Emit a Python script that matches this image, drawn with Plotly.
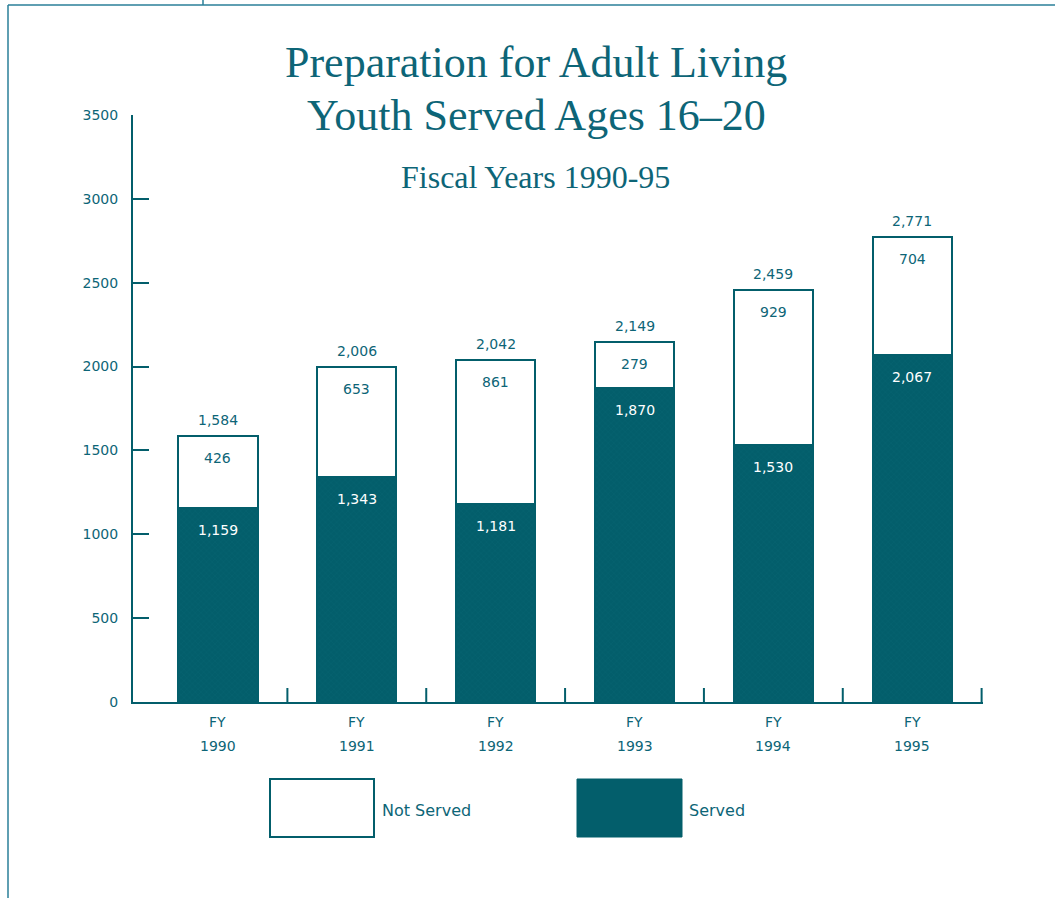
import plotly.graph_objects as go

# Youth aged 16-20 in the Preparation for Adult Living program, by fiscal year
years = ["1990", "1991", "1992", "1993", "1994", "1995"]
served = [1159, 1343, 1181, 1870, 1530, 2067]
not_served = [426, 653, 861, 279, 929, 704]
total_labels = ["1,584", "2,006", "2,042", "2,149", "2,459", "2,771"]
y_ticks = [0, 500, 1000, 1500, 2000, 2500, 3000, 3500]

TEAL = "#035e6b"
TEXT = "#0d6577"
W, H = 1055, 898
L, R, T, B = 133, 72, 115, 196
PW, PH = W - L - R, H - T - B


def px(x):
    return (x - L) / PW


def py(y):
    return (H - B - y) / PH


xs = list(range(len(years)))
tops = [s + n for s, n in zip(served, not_served)]

fig = go.Figure()
fig.add_trace(go.Bar(
    x=xs, y=served, name="Served", width=0.57,
    marker=dict(color=TEAL, line=dict(color=TEAL, width=2),
                pattern=dict(shape="x", size=4, solidity=0.25,
                             fgcolor="#0b6874", bgcolor=TEAL)),
    showlegend=False,
))
fig.add_trace(go.Bar(
    x=xs, y=not_served, name="Not Served", width=0.57,
    marker=dict(color="white", line=dict(color=TEAL, width=2)),
    showlegend=False,
))

annotations = []
label_font = dict(family="DejaVu Sans", size=14, color=TEXT)
for i in xs:
    annotations.append(dict(x=i, y=tops[i], text=total_labels[i], showarrow=False,
                            yanchor="bottom", yshift=6, font=label_font))
    annotations.append(dict(x=i, y=tops[i], text=f"{not_served[i]:,}", showarrow=False,
                            yanchor="top", yshift=-12, font=label_font))
    annotations.append(dict(x=i, y=served[i], text=f"{served[i]:,}", showarrow=False,
                            yanchor="top", yshift=-12,
                            font=dict(family="DejaVu Sans", size=14, color="white")))
    # Two-line category labels under the axis
    annotations.append(dict(x=i, xref="x", yref="paper", y=py(722), text="FY",
                            showarrow=False, yanchor="middle", font=label_font))
    annotations.append(dict(x=i, xref="x", yref="paper", y=py(746), text=years[i],
                            showarrow=False, yanchor="middle", font=label_font))

# Titles
annotations += [
    dict(xref="paper", yref="paper", x=px(536), y=py(62), text="Preparation for Adult Living",
         showarrow=False, yanchor="middle",
         font=dict(family="Liberation Serif", size=44, color=TEXT)),
    dict(xref="paper", yref="paper", x=px(536), y=py(115), text="Youth Served Ages 16–20",
         showarrow=False, yanchor="middle",
         font=dict(family="Liberation Serif", size=44, color=TEXT)),
    dict(xref="paper", yref="paper", x=px(535), y=py(177), text="Fiscal Years 1990-95",
         showarrow=False, yanchor="middle",
         font=dict(family="Liberation Serif", size=32, color=TEXT)),
]

# Legend text
annotations += [
    dict(xref="paper", yref="paper", x=px(380), y=py(810), text="Not Served", xanchor="left",
         yanchor="middle", showarrow=False,
         font=dict(family="DejaVu Sans", size=16, color=TEXT)),
    dict(xref="paper", yref="paper", x=px(687), y=py(810), text="Served", xanchor="left",
         yanchor="middle", showarrow=False,
         font=dict(family="DejaVu Sans", size=16, color=TEXT)),
]

shapes = []
# Category divider ticks on the x axis
for i in xs:
    shapes.append(dict(type="line", xref="x", yref="paper", x0=i + 0.5, x1=i + 0.5,
                       y0=0, y1=14 / PH, line=dict(color=TEAL, width=2)))
# Legend swatches
shapes.append(dict(type="rect", xref="paper", yref="paper", x0=px(270), x1=px(374),
                   y0=py(837), y1=py(779), fillcolor="white", line=dict(color=TEAL, width=2)))
shapes.append(dict(type="rect", xref="paper", yref="paper", x0=px(577), x1=px(682),
                   y0=py(837), y1=py(779), fillcolor=TEAL, line=dict(color=TEAL, width=1)))
# Page frame lines
frame = dict(color="#2a7f98", width=1.5)
shapes.append(dict(type="line", xref="paper", yref="paper", x0=px(8), x1=px(1055),
                   y0=py(5), y1=py(5), line=frame))
shapes.append(dict(type="line", xref="paper", yref="paper", x0=px(8), x1=px(8),
                   y0=py(5), y1=py(898), line=frame))
shapes.append(dict(type="line", xref="paper", yref="paper", x0=px(203), x1=px(203),
                   y0=py(0), y1=py(5), line=frame))

fig.update_layout(
    barmode="stack",
    width=W, height=H,
    margin=dict(l=L, r=R, t=T, b=B),
    paper_bgcolor="white", plot_bgcolor="white",
    annotations=annotations,
    shapes=shapes,
    xaxis=dict(range=[-0.612, 5.51], showticklabels=False,
               showline=True, linecolor=TEAL, linewidth=2, ticks="", showgrid=False,
               zeroline=False),
    yaxis=dict(range=[0, 3500], tickmode="array", tickvals=y_ticks,
               showline=True, linecolor=TEAL, linewidth=2, ticks="inside", ticklen=16,
               tickwidth=2, tickcolor=TEAL, showgrid=False, zeroline=False,
               tickfont=dict(family="DejaVu Sans", size=14, color=TEXT),
               ticklabelstandoff=10),
    bargap=0,
)

fig.write_html("out.html")
